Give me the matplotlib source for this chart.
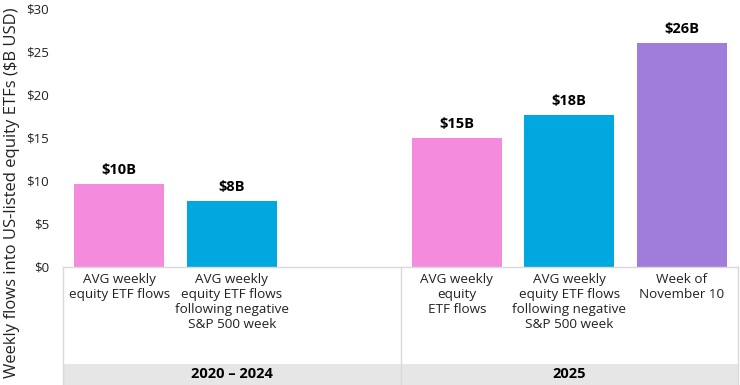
import matplotlib
matplotlib.use("Agg")
import matplotlib.pyplot as plt
from matplotlib.patches import Rectangle
from matplotlib.lines import Line2D

plt.rcParams['font.family'] = ['Open Sans', 'DejaVu Sans']

# data
positions = [0, 1, 3, 4, 5]
values = [9.6, 7.7, 15.0, 17.6, 26.0]
value_labels = ['$10B', '$8B', '$15B', '$18B', '$26B']
colors = ['#F58BDC', '#00A8E0', '#F58BDC', '#00A8E0', '#A07CDB']
categories = ['AVG weekly\nequity ETF flows',
              'AVG weekly\nequity ETF flows\nfollowing negative\nS&P 500 week',
              'AVG weekly\nequity\nETF flows',
              'AVG weekly\nequity ETF flows\nfollowing negative\nS&P 500 week',
              'Week of\nNovember 10']
groups = ['2020 \u2013 2024', '2025']
group_centers = [1.0, 4.0]
yticks = [0, 5, 10, 15, 20, 25, 30]

fig = plt.figure(figsize=(7.4, 3.85), dpi=100)
ax = fig.add_axes([63 / 740, 1 - 267 / 385, 1 - 65 / 740, 259 / 385])

ax.bar(positions, values, width=0.8, color=colors)
for x, v, lab in zip(positions, values, value_labels):
    ax.text(x, v + 0.8, lab, ha='center', va='bottom', fontsize=10.5,
            fontweight='bold', color='black')

ax.set_xlim(-0.5, 5.5)
ax.set_ylim(0, 30)
ax.set_yticks(yticks)
ax.set_yticklabels(['$%d' % t for t in yticks], fontsize=9.5, color='#222222')
ax.tick_params(axis='y', length=0, pad=10)
ax.set_xticks([])
for s in ax.spines.values():
    s.set_visible(False)

tr = ax.get_xaxis_transform()
line_col = '#D9D9D9'

# table under the bars
y_bot = -0.46
y_band_top = -0.375
ax.add_patch(Rectangle((-0.5, y_bot), 6.0, y_band_top - y_bot, transform=tr,
                       facecolor='#E6E6E6', edgecolor='none', clip_on=False))
for seg in [([-0.5, 5.5], [0, 0]), ([-0.5, -0.5], [0, y_bot]),
            ([2.5, 2.5], [0, y_bot]), ([5.5, 5.5], [0, y_bot])]:
    ax.add_line(Line2D(seg[0], seg[1], transform=tr, color=line_col,
                       lw=1, clip_on=False))

for x, cat in zip(positions, categories):
    ax.text(x, -0.025, cat, transform=tr, ha='center', va='top',
            fontsize=9.7, color='#222222', linespacing=1.2)

for x, g in zip(group_centers, groups):
    ax.text(x, -0.415, g, transform=tr, ha='center', va='center',
            fontsize=10.5, fontweight='bold', color='black')

fig.text(12 / 740, 0.5, 'Weekly flows into US-listed equity ETFs ($B USD)',
         rotation=90, ha='center', va='center', fontsize=12, color='#222222')

fig.savefig('out.png', dpi=100)
